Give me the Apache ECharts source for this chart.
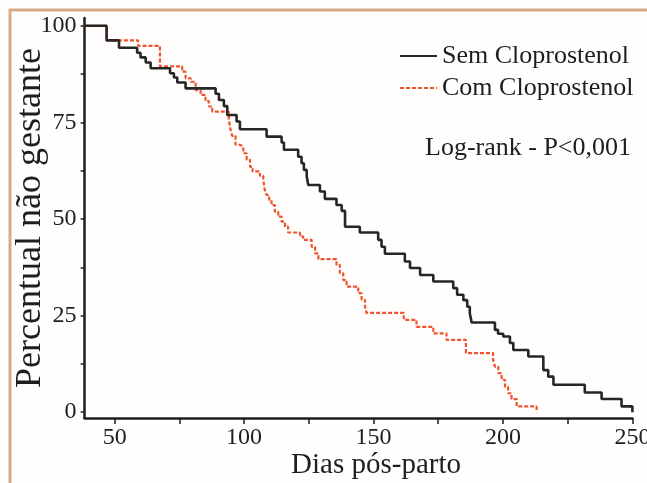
<!DOCTYPE html>
<html>
<head>
<meta charset="utf-8">
<script src="https://cdn.jsdelivr.net/npm/echarts@6/dist/echarts.min.js"></script>
<style>
html,body{margin:0;padding:0;background:#ffffff;}
#chart{width:647px;height:483px;}
</style>
</head>
<body>
<div id="chart"></div>
<script>
// Kaplan-Meier steps: [day, percent after the drop]
const semDays = [38.4, 46.9, 51.7, 58.7, 60.0, 62.0, 63.9, 71.4, 72.9, 74.2, 77.4, 89.0, 90.3, 92.2, 93.5, 97.1, 98.4, 108.7, 114.5, 115.4, 120.9, 122.2, 123.1, 124.2, 124.8, 129.3, 131.2, 135.7, 137.7, 139.0, 144.7, 151.8, 153.1, 154.4, 162.1, 164.1, 168.0, 173.1, 180.8, 182.3, 184.7, 186.2, 187.2, 187.9, 196.9, 198.1, 200.1, 202.7, 204.0, 209.8, 215.6, 217.5, 219.5, 231.6, 238.1, 245.8, 250.0];
const semVals = [100, 96.2, 94.3, 93.0, 91.8, 90.5, 89.0, 87.7, 86.6, 85.3, 83.8, 82.4, 80.8, 79.2, 76.9, 75.2, 73.2, 71.3, 69.8, 67.9, 66.1, 64.4, 62.7, 61.0, 58.8, 57.1, 55.2, 53.6, 52.1, 48.0, 46.5, 44.6, 42.8, 41.0, 39.0, 37.3, 35.5, 33.8, 32.1, 30.4, 29.0, 27.3, 25.6, 23.2, 21.3, 20.3, 19.6, 17.9, 16.1, 14.4, 10.9, 9.2, 7.1, 5.1, 3.4, 1.5, 0];

const comDays = [38.4, 46.9, 59.1, 67.5, 76.1, 77.4, 79.4, 81.3, 83.2, 85.1, 86.4, 87.7, 94.1, 94.8, 95.4, 96.7, 98.4, 99.7, 101.0, 102.3, 103.3, 106.1, 107.4, 108.0, 108.7, 109.7, 110.6, 111.9, 113.2, 114.5, 115.8, 117.0, 121.6, 122.8, 126.1, 127.4, 128.7, 135.7, 137.0, 138.3, 139.6, 144.1, 145.4, 146.7, 147.3, 161.7, 166.6, 173.1, 178.2, 185.7, 196.2, 196.9, 198.2, 199.5, 200.8, 202.0, 203.3, 205.3, 213.0];
const comVals = [100, 96.2, 94.8, 89.5, 88.1, 86.4, 85.5, 83.3, 82.1, 80.5, 79.1, 77.8, 75.6, 73.0, 71.5, 69.2, 68.7, 67.0, 65.3, 63.5, 62.3, 61.2, 60.1, 57.5, 56.2, 54.9, 53.6, 51.9, 50.6, 49.3, 48.0, 46.5, 45.5, 44.6, 42.8, 41.1, 39.6, 38.1, 36.0, 34.2, 32.5, 30.8, 29.1, 27.3, 25.7, 23.9, 22.1, 20.4, 18.7, 15.3, 13.6, 11.8, 10.1, 8.4, 6.6, 4.9, 3.4, 1.5, 0];

const xLabelValues = [50, 100, 150, 200, 250];
const xTickValues = [50, 75, 100, 125, 150, 175, 200, 225, 250];
const yLabelValues = [0, 25, 50, 75, 100];
const yTickValues = [0, 12.5, 25, 37.5, 50, 62.5, 75, 87.5, 100];

const seriesNames = ['Sem Cloprostenol', 'Com Cloprostenol'];
const noteText = 'Log-rank - P<0,001';
const xTitle = 'Dias pós-parto';
const yTitle = 'Percentual não gestante';

const pair = (d, v) => d.map((x, i) => [x, v[i]]);
const serif = '"Liberation Serif", "DejaVu Serif", serif';
const ink = '#1e1e1e';

const chart = echarts.init(document.getElementById('chart'), null, {renderer: 'canvas'});
chart.setOption({
  backgroundColor: '#fffefc',
  animation: false,
  grid: {left: 84.6, right: 14.6, top: 18, bottom: 65, containLabel: false, outerBoundsMode: 'none'},
  legend: {
    orient: 'vertical',
    left: 394,
    top: 38,
    itemWidth: 37,
    itemHeight: 14,
    itemGap: 6,
    data: seriesNames,
    itemStyle: {opacity: 0},
    textStyle: {fontFamily: serif, fontSize: 26, color: ink, lineHeight: 26}
  },
  xAxis: {
    type: 'value',
    min: 38.4,
    max: 250,
    name: xTitle,
    nameLocation: 'middle',
    nameGap: 33,
    nameMoveOverlap: false,
    nameTextStyle: {fontFamily: serif, fontSize: 29, color: ink, padding: [0, 0, 0, 35]},
    axisLine: {show: true, onZero: false, lineStyle: {color: ink, width: 2.5}},
    axisTick: {show: true, customValues: xTickValues, length: 6, inside: false, lineStyle: {color: ink, width: 1.5}},
    axisLabel: {customValues: xLabelValues, fontFamily: serif, fontSize: 24, color: ink, margin: 8},
    splitLine: {show: false}
  },
  yAxis: {
    type: 'value',
    min: -1.5,
    max: 102,
    name: yTitle,
    nameLocation: 'middle',
    nameGap: 36,
    nameRotate: 90,
    nameMoveOverlap: false,
    nameTextStyle: {fontFamily: serif, fontSize: 36, color: ink},
    axisLine: {show: true, onZero: false, lineStyle: {color: ink, width: 2.5}},
    axisTick: {show: true, customValues: yTickValues, length: 4, inside: false, lineStyle: {color: ink, width: 1.5}},
    axisLabel: {customValues: yLabelValues, fontFamily: serif, fontSize: 24, color: ink, margin: 8},
    splitLine: {show: false}
  },
  series: [
    {
      name: seriesNames[0],
      type: 'line',
      step: 'end',
      symbol: 'none',
      data: pair(semDays, semVals),
      lineStyle: {color: '#262626', width: 2.6},
      itemStyle: {color: '#262626'},
      z: 3
    },
    {
      name: seriesNames[1],
      type: 'line',
      step: 'end',
      symbol: 'none',
      data: pair(comDays, comVals),
      lineStyle: {color: '#f0532f', width: 2.2, type: [4, 2]},
      itemStyle: {color: '#f0532f'},
      z: 2
    }
  ],
  graphic: [
    {type: 'text', x: 425, y: 148, style: {text: noteText, font: '26px ' + serif, fill: ink, verticalAlign: 'middle', textVerticalAlign: 'middle'}},
    {type: 'line', shape: {x1: 9, y1: 10, x2: 647, y2: 10}, style: {stroke: '#d6ab86', lineWidth: 3}},
    {type: 'line', shape: {x1: 10, y1: 9, x2: 10, y2: 483}, style: {stroke: '#d6ab86', lineWidth: 3}}
  ]
});
</script>
</body>
</html>
